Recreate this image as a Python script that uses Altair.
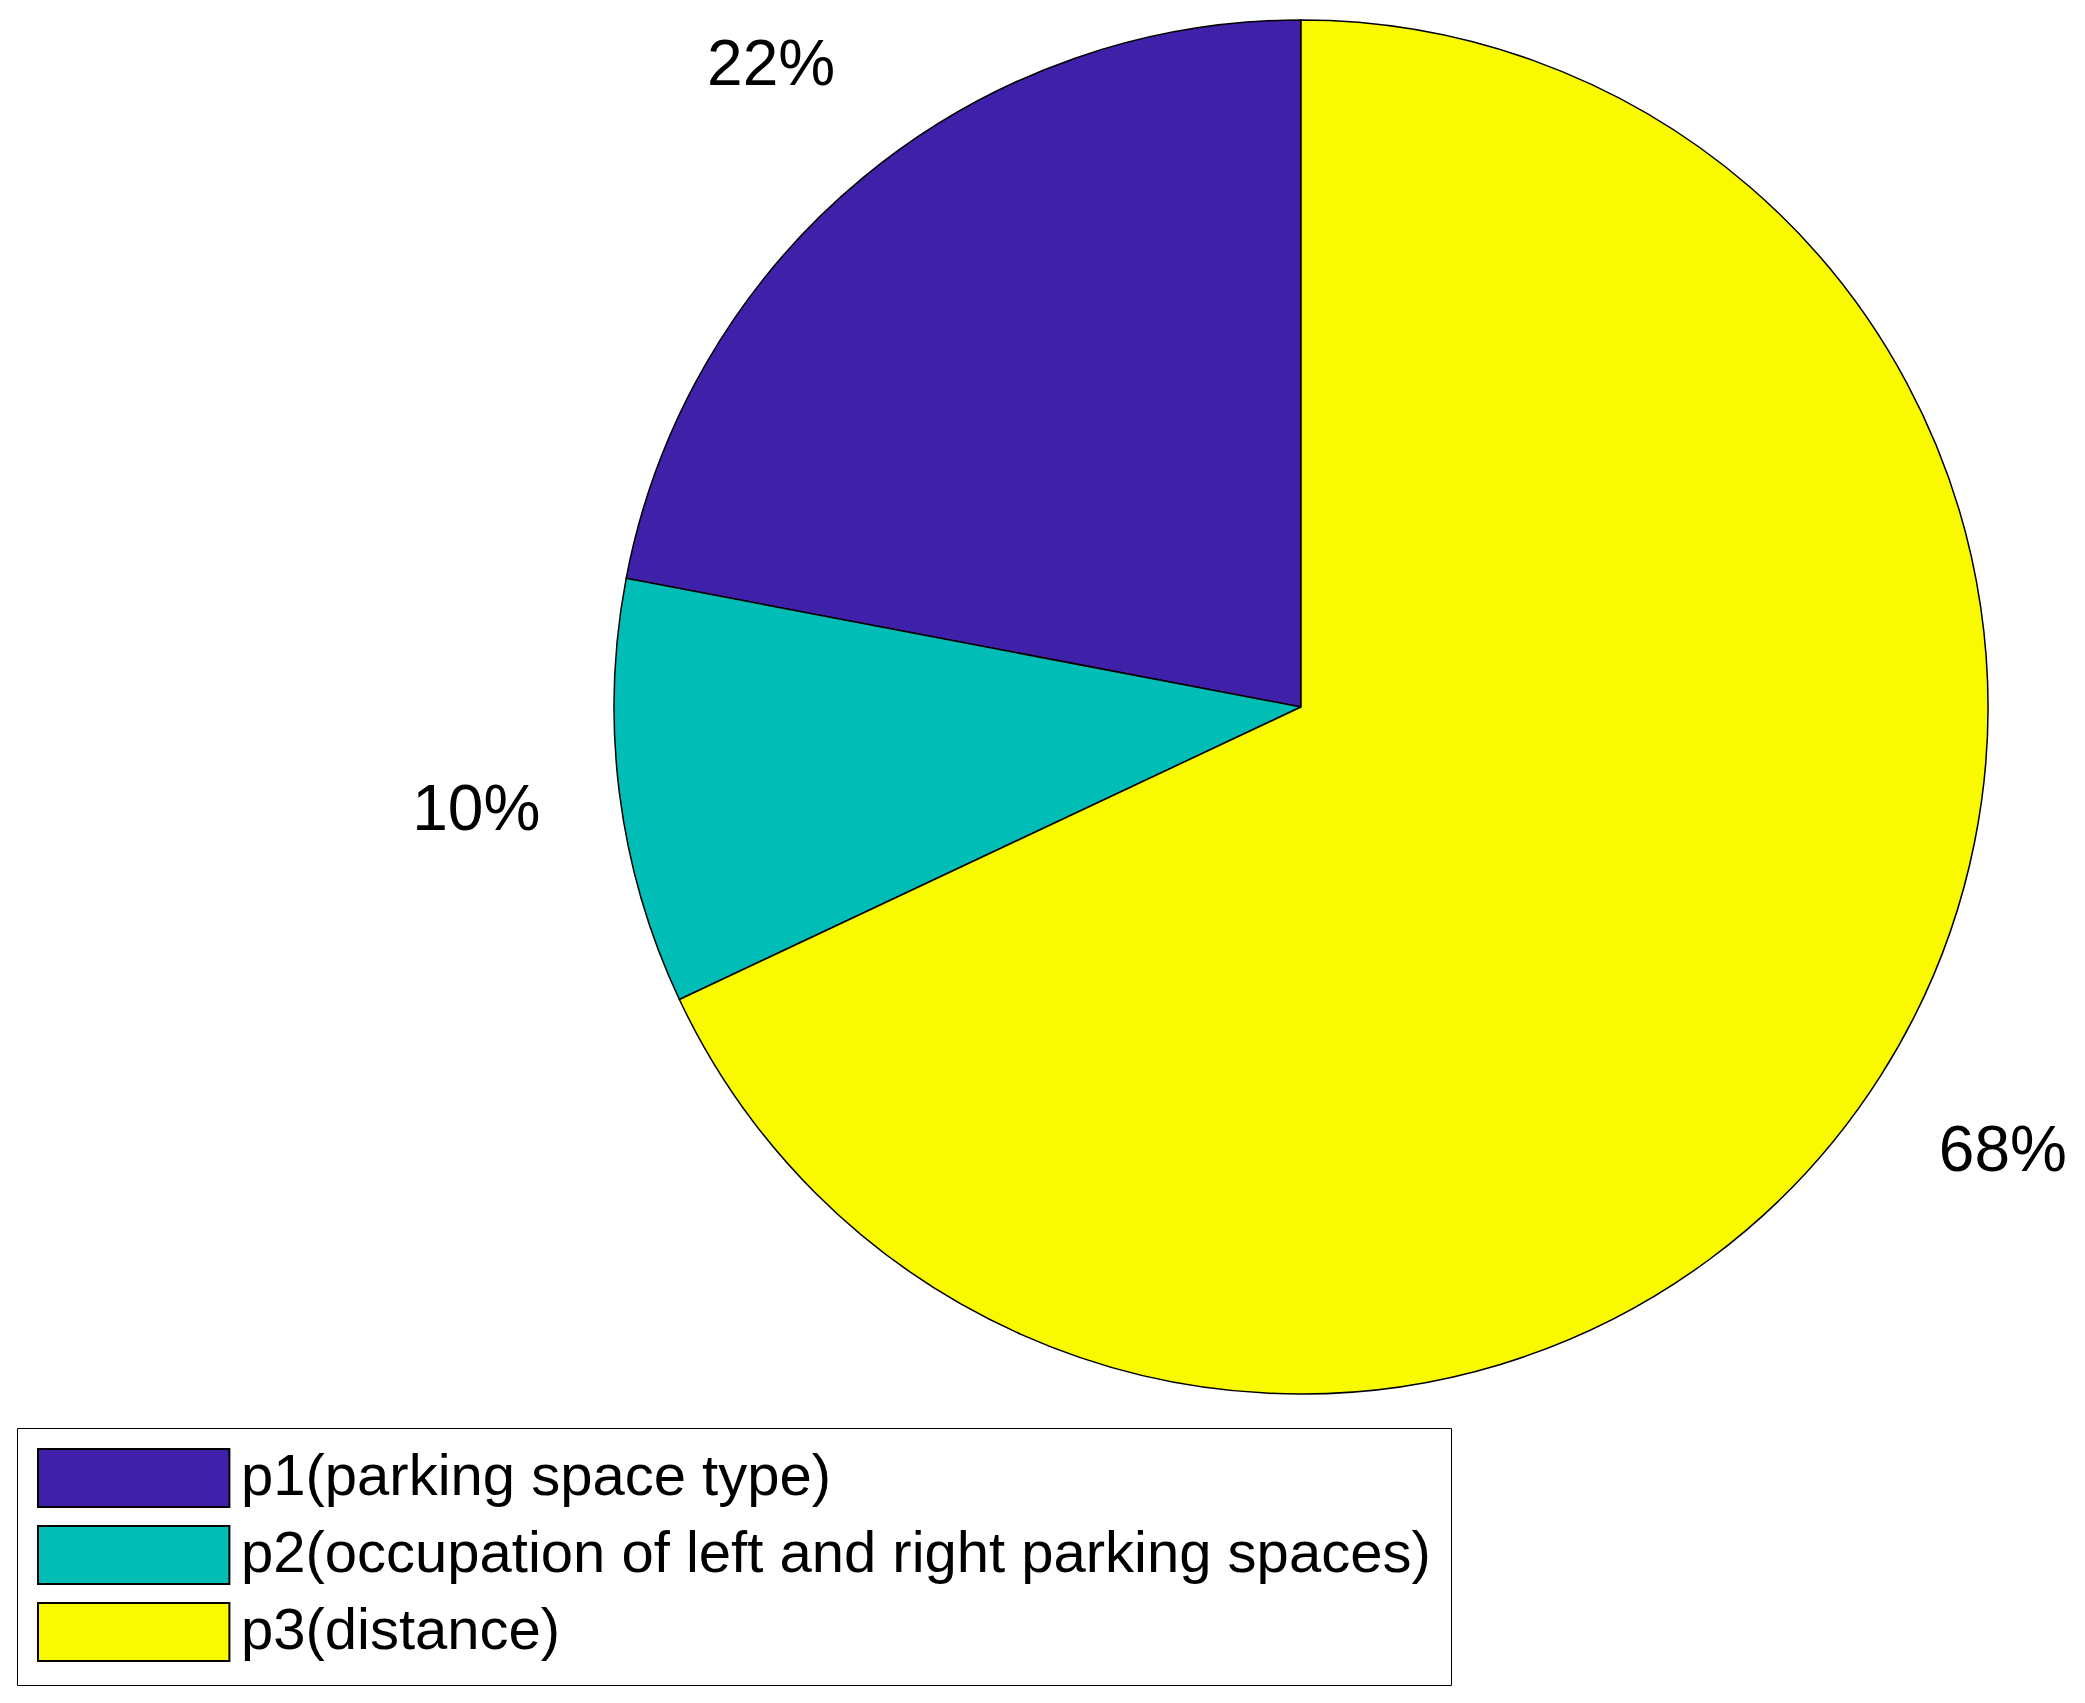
import altair as alt
import pandas as pd

categories = [
    "p1(parking space type)",
    "p2(occupation of left and right parking spaces)",
    "p3(distance)",
]
values = [22, 10, 68]
pct_labels = ["22%", "10%", "68%"]
colors = ["#3F21A9", "#00BDB5", "#F9FA00"]

df = pd.DataFrame({"category": categories, "value": values, "label": pct_labels})

CX, CY, R = 1293, 699, 687

theta = alt.Theta("value:Q", stack=True)
order = alt.Order("category:N", sort="descending")

legend = alt.Legend(
    title=None,
    orient="none",
    legendX=9,
    legendY=1420,
    padding=20,
    strokeColor="black",
    fillColor="white",
    symbolType="M-1,-1L5.6,-1L5.6,1L-1,1Z",
    symbolSize=3364,
    symbolStrokeColor="black",
    symbolStrokeWidth=2,
    symbolOpacity=1,
    labelFontSize=58,
    labelFont="Liberation Sans",
    labelColor="black",
    labelOffset=144,
    labelLimit=3000,
    rowPadding=11,
)

color = alt.Color(
    "category:N",
    scale=alt.Scale(domain=categories, range=colors),
    legend=legend,
)

arcs = alt.Chart(df).mark_arc(radius=R, stroke="black", strokeWidth=1.5, opacity=1).encode(
    theta=theta,
    order=order,
    color=color,
    x=alt.value(CX),
    y=alt.value(CY),
)

texts = alt.Chart(df).mark_text(
    radius=R * 1.21, fontSize=64, font="Liberation Sans", color="black",
    align="center", baseline="middle",
).encode(
    theta=theta,
    order=order,
    text="label:N",
    x=alt.value(CX),
    y=alt.value(CY),
)

chart = (
    alt.layer(arcs, texts)
    .properties(width=2060, height=1680, padding=0, autosize=alt.AutoSizeParams(type="none"))
    .configure_view(strokeWidth=0, strokeOpacity=0)
)

chart.save("out.html", embed_options={"renderer": "svg", "actions": False})
